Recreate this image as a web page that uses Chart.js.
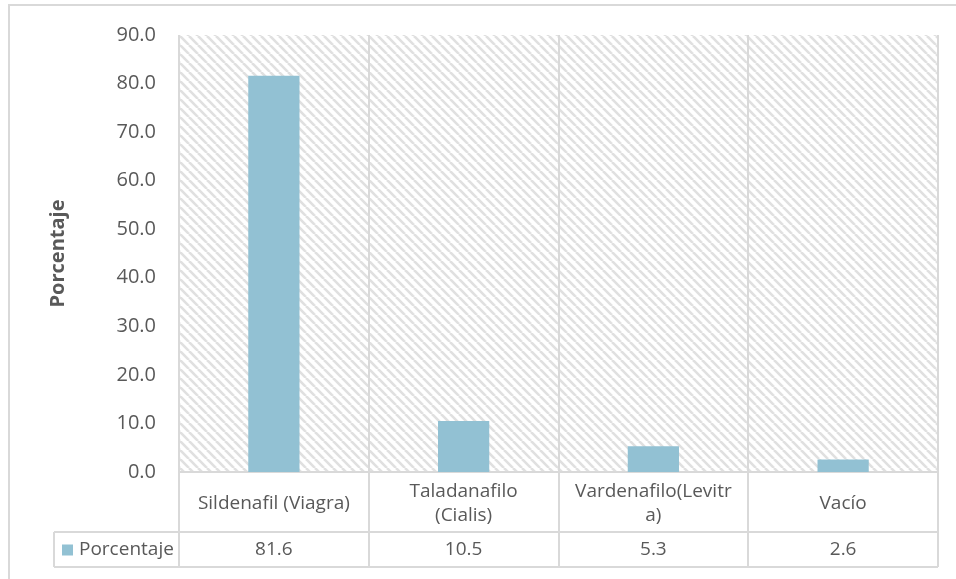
<!DOCTYPE html>
<html>
<head>
<meta charset="utf-8">
<script src="https://cdn.jsdelivr.net/npm/chart.js@4/dist/chart.umd.min.js"></script>
<style>
html,body{margin:0;padding:0;background:#fff;}
canvas{display:block;}
</style>
</head>
<body>
<canvas id="c" width="956" height="579"></canvas>
<script>
const categories = ['Sildenafil (Viagra)', ['Taladanafilo', '(Cialis)'], ['Vardenafilo(Levitr', 'a)'], 'Vacío'];
const seriesName = 'Porcentaje';
const values = [81.6, 10.5, 5.3, 2.6];
const tableValues = ['81.6', '10.5', '5.3', '2.6'];
const yTicks = [0, 10, 20, 30, 40, 50, 60, 70, 80, 90];

const FONT = "'Open Sans', 'DejaVu Sans', sans-serif";
const TXT = '#595959';
const LINE = '#d9d9d9';
const BAR = '#92c1d3';

function makeHatch() {
  const s = 9;
  const c = document.createElement('canvas');
  c.width = s; c.height = s;
  const g = c.getContext('2d');
  g.fillStyle = '#ffffff';
  g.fillRect(0, 0, s, s);
  g.strokeStyle = '#e0e0e0';
  g.lineWidth = 2.6;
  for (const k of [-s, 0, s]) {
    g.beginPath();
    g.moveTo(k, 0);
    g.lineTo(k + s, s);
    g.stroke();
  }
  return c;
}

const framePlugin = {
  id: 'frame',
  beforeDraw(chart) {
    const ctx = chart.ctx;
    const a = chart.chartArea;
    ctx.save();
    ctx.strokeStyle = LINE;
    ctx.lineWidth = 2;
    ctx.strokeRect(9, 5, 1000, 1000);
    ctx.fillStyle = ctx.createPattern(makeHatch(), 'repeat');
    ctx.fillRect(a.left, a.top, a.right - a.left, a.bottom - a.top);
    ctx.restore();
  },
  afterDraw(chart) {
    const ctx = chart.ctx;
    const a = chart.chartArea;
    const x = chart.scales.x;
    const half = (x.getPixelForValue(1) - x.getPixelForValue(0)) / 2;
    const rowTop = a.bottom + 60;
    const rowBot = rowTop + 35;
    const legLeft = 54;
    ctx.save();
    ctx.strokeStyle = LINE;
    ctx.lineWidth = 2;
    for (let i = 0; i <= categories.length; i++) {
      const px = Math.round(x.getPixelForValue(0) - half + i * 2 * half);
      ctx.beginPath();
      ctx.moveTo(px, a.bottom);
      ctx.lineTo(px, rowBot);
      ctx.stroke();
    }
    ctx.beginPath();
    ctx.moveTo(legLeft, rowTop); ctx.lineTo(a.right, rowTop);
    ctx.moveTo(legLeft, rowBot); ctx.lineTo(a.right, rowBot);
    ctx.moveTo(legLeft, rowTop); ctx.lineTo(legLeft, rowBot);
    ctx.stroke();
    ctx.fillStyle = TXT;
    ctx.font = '19px ' + FONT;
    ctx.textAlign = 'center';
    ctx.textBaseline = 'middle';
    const midY = (rowTop + rowBot) / 2;
    tableValues.forEach((v, i) => {
      ctx.fillText(v, x.getPixelForValue(i), midY);
    });
    ctx.fillStyle = BAR;
    ctx.fillRect(62, midY - 5, 11, 11);
    ctx.fillStyle = TXT;
    ctx.textAlign = 'left';
    ctx.fillText(seriesName, 79, midY);
    ctx.restore();
  }
};

new Chart(document.getElementById('c'), {
  type: 'bar',
  data: {
    labels: categories,
    datasets: [{
      label: seriesName,
      data: values,
      backgroundColor: BAR,
      borderWidth: 0,
      categoryPercentage: 1,
      barPercentage: 0.27
    }]
  },
  options: {
    responsive: false,
    animation: false,
    layout: { padding: { left: 0, right: 18, top: 34, bottom: 12 } },
    plugins: { legend: { display: false }, tooltip: { enabled: false } },
    scales: {
      x: {
        afterFit(axis) { axis.height = 95; },
        grid: { display: true, offset: true, color: LINE, lineWidth: 2, drawTicks: false },
        border: { display: true, color: LINE, width: 2 },
        ticks: {
          color: TXT,
          font: { family: FONT, size: 19, lineHeight: 1.26 },
          padding: 20,
          maxRotation: 0,
          autoSkip: false,
          crossAlign: 'center'
        }
      },
      y: {
        min: 0,
        max: 90,
        afterFit(axis) { axis.width = 179; },
        afterBuildTicks(axis) { axis.ticks = yTicks.map(v => ({ value: v })); },
        grid: { display: false, drawTicks: false },
        border: { display: false },
        ticks: {
          color: TXT,
          font: { family: FONT, size: 20 },
          padding: 23,
          callback: v => Number(v).toFixed(1)
        },
        title: {
          display: true,
          text: seriesName,
          color: TXT,
          font: { family: FONT, size: 20, weight: 'bold' },
          padding: { top: 46, bottom: 0 }
        }
      }
    }
  },
  plugins: [framePlugin]
});
</script>
</body>
</html>
